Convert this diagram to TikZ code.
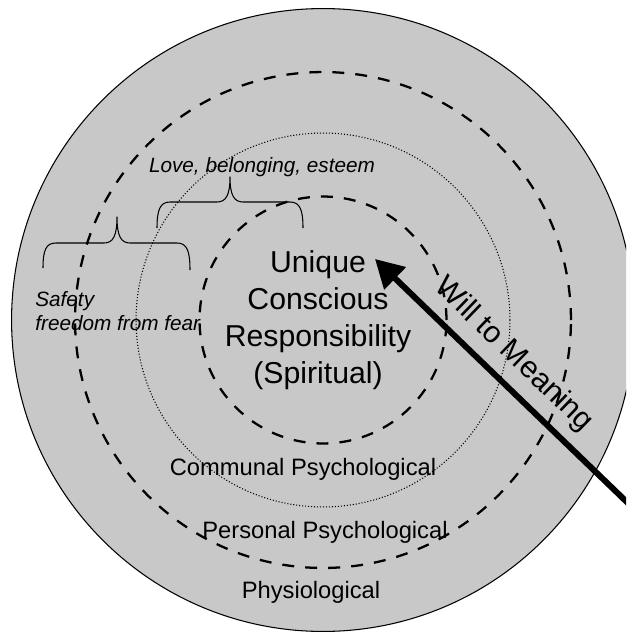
\documentclass[tikz,border=0pt]{standalone}
\usepackage{fontspec}
\setmainfont{Liberation Sans}
\usetikzlibrary{arrows.meta}
\definecolor{ringgray}{RGB}{200,200,200}

\begin{document}
\begin{tikzpicture}[x=0.02cm,y=-0.02cm,line join=round,>={Triangle[length=5.6mm,width=6mm]},every node/.style={inner sep=0pt},
  ring/.style={line width=1.3pt,dash pattern=on 6.8pt off 6.3pt},
  dotring/.style={line width=0.6pt,dash pattern=on 0.6pt off 1.1pt},
  curly/.style={line width=0.6pt},
  big/.style={font=\fontsize{17.2}{21}\selectfont},
  mid/.style={font=\fontsize{13.5}{16}\selectfont},
  note/.style={font=\fontsize{11.8}{13.7}\selectfont\itshape}]
  \def\cx{323}
  \def\cy{320}
  \useasboundingbox (0,0) rectangle (626,632);
  \clip (0,0) rectangle (626,632);
  % the rings
  \fill[ringgray] (\cx,\cy) circle[radius=6.23cm];
  \draw[line width=0.6pt] (\cx,\cy) circle[radius=6.23cm];
  \draw[ring] (\cx,\cy) circle[radius=4.96cm];
  \draw[dotring] (\cx,\cy) circle[radius=3.74cm];
  \draw[ring] (\cx,\cy) circle[radius=2.47cm];
  % labels
  \node[big,align=center] (core) at (318,320) {Unique\\Conscious\\Responsibility\\(Spiritual)};
  \node[mid,anchor=base] (communal) at (303,475) {Communal Psychological};
  \node[mid,anchor=base] (personal) at (325,538) {Personal Psychological};
  \node[mid,anchor=base] (physio) at (311,598) {Physiological};
  \node[note,anchor=base] (love) at (262,172) {Love, belonging, esteem};
  \node[note,anchor=north west,align=left] (safety) at (35,291) {Safety\\freedom from fear};
  % braces
  \draw[curly] (157,228) .. controls (157,210) and (160,202) .. (170,202) -- (217,202)
    .. controls (226,202) and (230,195) .. (230,177) .. controls (230,195) and (234,202) .. (243,202)
    -- (290,202) .. controls (300,202) and (303,210) .. (303,228);
  \draw[curly] (43,268) .. controls (43,250) and (46,243) .. (56,243) -- (104,243)
    .. controls (113,243) and (117,236) .. (117,217) .. controls (117,236) and (121,243) .. (130,243)
    -- (177,243) .. controls (187,243) and (190,251) .. (190,270);
  % will to meaning
  \coordinate (tail) at (660,534);
  \coordinate (aim) at (375,259);
  \draw[->,line width=3.4pt] (tail) -- node[big,pos=0.58,sloped,above=0.2cm] (will) {Will to Meaning} (aim);
\end{tikzpicture}
\end{document}
